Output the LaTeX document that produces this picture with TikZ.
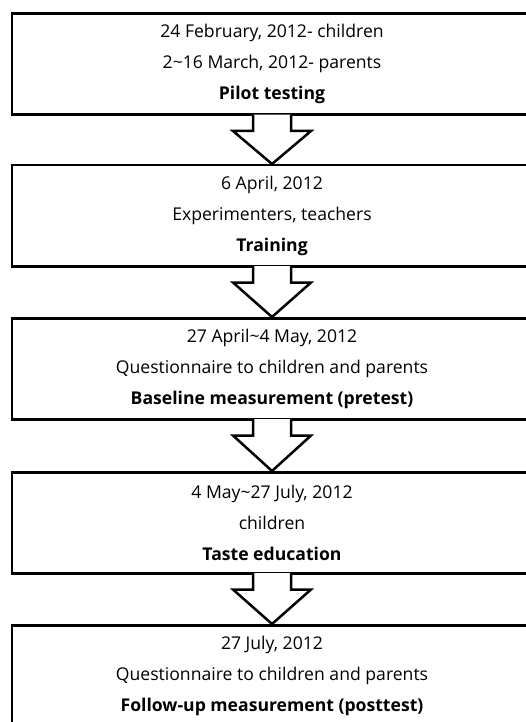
\documentclass[tikz,border=0pt]{standalone}
\usepackage{fontspec}
\setmainfont{Open Sans}
\usetikzlibrary{calc}
\tikzset{
  stagebox/.style={draw=black, line width=2.5pt, fill=white, minimum width=520pt, minimum height=101pt,
    inner sep=0pt, align=center, font=\fontsize{17.6}{31}\selectfont, anchor=north},
  flowarrow/.style={draw=black, fill=white, line width=2.5pt, line join=miter}
}
\begin{document}
\begin{tikzpicture}[x=1pt,y=-1pt]
\useasboundingbox (0,0) rectangle (526,722);
\node[stagebox] (b1) at (272,12.5) {24 February, 2012- children\\2\textasciitilde16 March, 2012- parents\\\textbf{Pilot testing}};
\node[stagebox] (b2) at (272,164) {6 April, 2012\\Experimenters, teachers\\\textbf{Training}};
\node[stagebox] (b3) at (272,317) {27 April\textasciitilde4 May, 2012\\Questionnaire to children and parents\\\textbf{Baseline measurement (pretest)}};
\node[stagebox] (b4) at (272,471) {4 May\textasciitilde27 July, 2012\\children\\\textbf{Taste education}};
\node[stagebox] (b5) at (272,624) {27 July, 2012\\Questionnaire to children and parents\\\textbf{Follow-up measurement (posttest)}};
\foreach \a/\b in {b1/b2,b2/b3,b3/b4,b4/b5}{
  \filldraw[flowarrow] ($(\a.south)+(-19,-1.3)$) -- ($(\a.south)+(-19,15)$) -- ($(\a.south)+(-39,15)$)
    -- (\b.north) -- ($(\a.south)+(39,15)$) -- ($(\a.south)+(19,15)$) -- ($(\a.south)+(19,-1.3)$);
}
\end{tikzpicture}
\end{document}
